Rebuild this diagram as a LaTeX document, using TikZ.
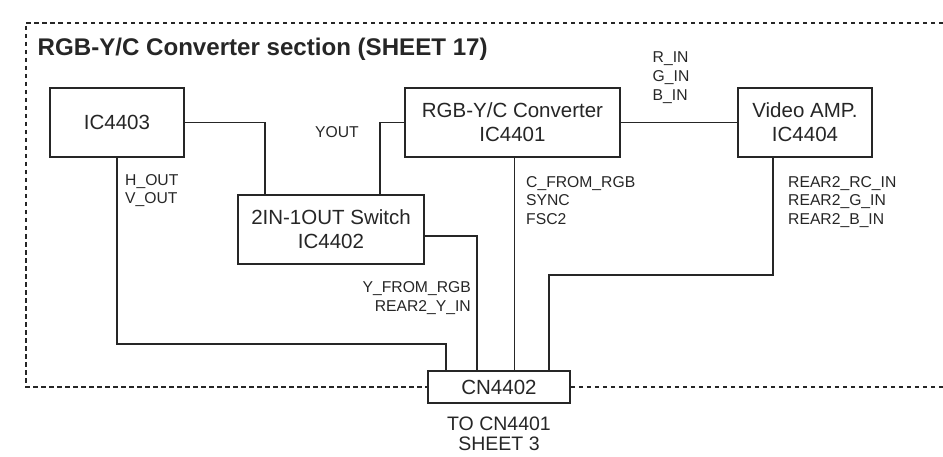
\documentclass[tikz,border=0pt]{standalone}
\usepackage{fontspec}
\setmainfont{Liberation Sans}
\usetikzlibrary{positioning}
\tikzset{
  block/.style={draw=black!85, line width=1.9pt, fill=white, inner sep=0pt, minimum height=69pt, align=center, text=black!85, font=\fontsize{20.5}{24}\selectfont},
  connbox/.style={block, minimum height=32pt, minimum width=142pt},
  wire/.style={draw=black!85, line width=1.9pt},
  frame/.style={draw=black!85, line width=2pt, dash pattern=on 4.5pt off 3.5pt},
  sig/.style={inner sep=0pt, align=left, text=black!85, font=\fontsize{15.7}{18.8}\selectfont},
  title/.style={inner sep=0pt, text=black!85, font=\fontsize{24.1}{28}\selectfont\bfseries},
  note/.style={inner sep=0pt, align=center, text=black!85, font=\fontsize{19.5}{20}\selectfont}
}
\begin{document}
\begin{tikzpicture}[x=1pt, y=-1pt]
  \useasboundingbox (0,0) rectangle (943,457);
  \node[block, minimum width=134pt] (ic4403) at (117,122.5) {IC4403};
  \node[block, minimum width=186pt] (ic4402) at (331,229.5) {2IN-1OUT Switch\\IC4402};
  \node[block, minimum width=215pt] (ic4401) at (512.5,122.5) {RGB-Y/C Converter\\IC4401};
  \node[block, minimum width=134pt] (ic4404) at (805,122.5) {Video AMP.\\IC4404};
  \node[connbox] (cn4402) at (499,387) {CN4402};
  \node[note, below=13pt of cn4402] (tocn) {TO CN4401\\SHEET 3};
  \coordinate (frametr) at (943,23);
  \coordinate (frametl) at (26,23);
  \coordinate (framebl) at (26,387);
  \coordinate (framebr) at (943,387);
  \draw[frame] (frametr) -- (frametl) -- (framebl) -- (cn4402.west);
  \draw[frame] (cn4402.east) -- (framebr);
  \node[title, anchor=base west] (ttl) at (37.5,56) {RGB-Y/C Converter section (SHEET 17)};
  \draw[wire] (ic4403.east) -| ([xshift=28pt]ic4402.north west);
  \draw[wire] ([xshift=-45pt]ic4402.north east) |- (ic4401.west);
  \draw[wire] (ic4401.east) -- (ic4404.west);
  \draw[wire] (ic4403.south) |- ([xshift=19pt,yshift=26pt]cn4402.north west) -- ([xshift=19pt]cn4402.north west);
  \draw[wire] ([yshift=-6.5pt]ic4402.east) -| ([xshift=50pt]cn4402.north west);
  \draw[wire] ([xshift=2pt]ic4401.south) -- ([xshift=2pt]ic4401.south |- cn4402.north);
  \draw[wire] ([xshift=36pt]ic4404.south west) |- ([xshift=122pt,yshift=95pt]cn4402.north west) -- ([xshift=122pt]cn4402.north west);
  \node[sig, anchor=north west] (hvout) at (125,174) {H\_OUT\\V\_OUT};
  \node[sig, anchor=north west] (yout) at (315,126.5) {YOUT};
  \node[sig, anchor=north west] (rgbin) at (652.5,51.5) {R\_IN\\G\_IN\\B\_IN};
  \node[sig, anchor=north west] (cfrom) at (526,176) {C\_FROM\_RGB\\SYNC\\FSC2};
  \node[sig, anchor=north west] (rear2in) at (788,176) {REAR2\_RC\_IN\\REAR2\_G\_IN\\REAR2\_B\_IN};
  \node[sig, anchor=north east, align=right] (yfrom) at (471,281.5) {Y\_FROM\_RGB\\REAR2\_Y\_IN};
\end{tikzpicture}
\end{document}
